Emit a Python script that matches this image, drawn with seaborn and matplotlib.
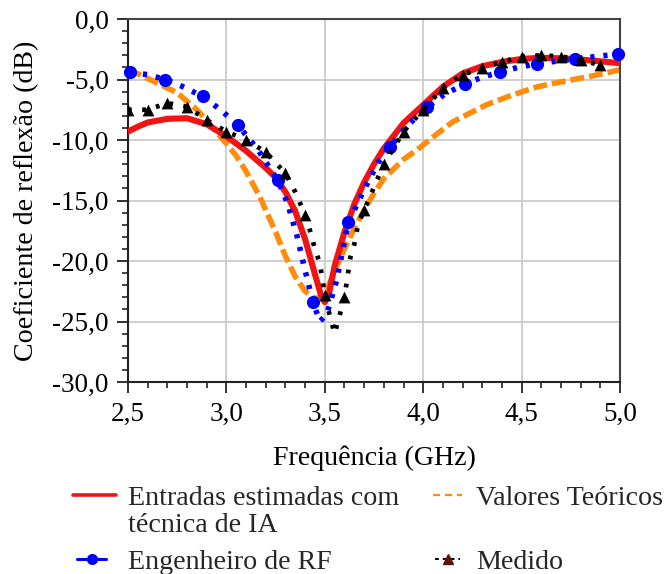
import matplotlib
matplotlib.use("Agg")
import matplotlib.pyplot as plt
from matplotlib.lines import Line2D
from matplotlib.ticker import MultipleLocator
import numpy as np
import pandas as pd
import seaborn as sns

# ---------------- data ----------------
# Entradas estimadas com técnica de IA (red solid)
freq_ia = [2.50, 2.55, 2.60, 2.70, 2.80, 2.90, 3.00, 3.10, 3.15, 3.20, 3.25, 3.30, 3.35,
           3.40, 3.45, 3.48, 3.50, 3.52, 3.55, 3.60, 3.65, 3.70, 3.75, 3.80, 3.90,
           4.00, 4.10, 4.20, 4.30, 4.40, 4.50, 4.60, 4.70, 4.80, 4.90, 5.00]
s11_ia = [-9.3, -8.9, -8.55, -8.25, -8.2, -8.7, -9.7, -10.9, -11.6, -12.3, -13.1, -14.3, -15.9,
          -18.2, -21.1, -22.8, -23.4, -22.8, -20.4, -17.6, -15.3, -13.5, -12.0, -10.7, -8.6,
          -7.1, -5.6, -4.5, -3.9, -3.55, -3.3, -3.2, -3.25, -3.35, -3.5, -3.65]

# Valores Teóricos (orange dashed)
freq_teo = [2.50, 2.56, 2.65, 2.75, 2.85, 2.90, 3.00, 3.05, 3.10, 3.17, 3.20, 3.25,
            3.30, 3.35, 3.40, 3.45, 3.48, 3.52, 3.55, 3.60, 3.65, 3.70, 3.75, 3.80,
            3.85, 3.90, 3.97, 4.07, 4.15, 4.32, 4.45, 4.58, 4.70, 4.86, 5.00]
s11_teo = [-4.2, -4.6, -5.3, -6.1, -7.5, -8.4, -10.3, -11.3, -12.6, -14.7, -15.8, -17.6,
           -19.6, -21.3, -22.5, -23.1, -23.0, -22.0, -20.8, -19.0, -17.3, -15.8, -14.4, -13.2,
           -12.4, -11.6, -10.8, -9.5, -8.5, -7.1, -6.3, -5.6, -5.2, -4.7, -4.2]

# Engenheiro de RF (blue dashed, circle markers)
eng_mk_freq = [2.51, 2.69, 2.88, 3.06, 3.26, 3.44, 3.62, 3.83, 4.02, 4.21, 4.39, 4.58, 4.77, 4.99]
eng_mk_s11 = [-4.4, -5.0, -6.4, -8.8, -13.3, -23.4, -16.8, -10.6, -7.3, -5.4, -4.4, -3.7, -3.3, -2.9]
eng_mid_freq = [2.60, 2.78, 2.97, 3.16, 3.31, 3.36, 3.40, 3.475, 3.51, 3.56, 3.70, 3.77,
                3.92, 4.11, 4.30, 4.48, 4.67, 4.88]
eng_mid_s11 = [-4.6, -5.6, -7.5, -10.8, -15.2, -18.0, -20.8, -25.0, -24.4, -21.6, -14.1, -11.9,
               -8.8, -6.2, -4.8, -4.0, -3.5, -3.1]

# Medido (black dotted, triangle markers)
med_mk_freq = [2.5, 2.6, 2.7, 2.8, 2.9, 3.0, 3.1, 3.2, 3.3, 3.4, 3.5, 3.6, 3.7,
               3.8, 3.9, 4.0, 4.1, 4.2, 4.3, 4.4, 4.5, 4.6, 4.7, 4.8, 4.9]
med_mk_s11 = [-7.5, -7.5, -6.95, -7.25, -8.35, -9.3, -10.0, -11.0, -12.75, -16.2, -22.8, -23.0, -15.8,
              -12.0, -9.3, -7.5, -5.7, -4.6, -4.05, -3.55, -3.1, -3.0, -3.1, -3.4, -3.8]
med_mid_freq = [3.35, 3.42, 3.45, 3.475, 3.525, 3.55, 3.575, 3.63, 3.65, 3.67]
med_mid_s11 = [-14.3, -17.2, -19.0, -20.2, -24.5, -26.0, -24.5, -19.7, -18.6, -16.9]

x_ticks = [2.5, 3.0, 3.5, 4.0, 4.5, 5.0]
x_tick_labels = ["2,5", "3,0", "3,5", "4,0", "4,5", "5,0"]
y_ticks = [0, -5, -10, -15, -20, -25, -30]
y_tick_labels = ["0,0", "-5,0", "-10,0", "-15,0", "-20,0", "-25,0", "-30,0"]

labels = ["Entradas estimadas com", "técnica de IA", "Valores Teóricos",
          "Engenheiro de RF", "Medido"]

# ---------------- style ----------------
sns.set_theme(style="white")
plt.rcParams["font.family"] = ["Liberation Serif", "DejaVu Serif"]
FS_TICK = 19.5
FS = 20.2

RED = "#f01414"
ORANGE = "#ff8c0a"
BLUE = "#0000ff"
BLACK = "#000000"
MAROON = "#5a1414"

W, H = 664, 574
fig = plt.figure(figsize=(W / 100, H / 100), dpi=100)
ax = fig.add_axes([128 / W, 1 - 382 / H, (620 - 128) / W, (382 - 19) / H])

def merged(f1, s1, f2, s2):
    df = pd.DataFrame({"f": list(f1) + list(f2), "s": list(s1) + list(s2)})
    return df.sort_values("f").reset_index(drop=True)

eng_line = merged(eng_mk_freq, eng_mk_s11, eng_mid_freq, eng_mid_s11)
med_line = merged(med_mk_freq, med_mk_s11, med_mid_freq, med_mid_s11)

sns.lineplot(x=freq_teo, y=s11_teo, ax=ax, color=ORANGE, lw=4.0,
             linestyle=(0, (2.5, 0.9)), legend=False, zorder=2, estimator=None)
sns.lineplot(x=freq_ia, y=s11_ia, ax=ax, color=RED, lw=4.4, legend=False,
             zorder=3, estimator=None)
sns.lineplot(data=eng_line, x="f", y="s", ax=ax, color=BLUE, lw=4.0,
             linestyle=(0, (0.75, 1.6)), legend=False, zorder=4, estimator=None)
sns.scatterplot(x=eng_mk_freq, y=eng_mk_s11, ax=ax, color=BLUE, s=9.5 ** 2,
                marker="o", linewidth=0, legend=False, zorder=5, clip_on=False)
sns.lineplot(data=med_line, x="f", y="s", ax=ax, color=BLACK, lw=3.4,
             linestyle=(0, (0.8, 2.2)), legend=False, zorder=6, estimator=None)
sns.scatterplot(x=med_mk_freq, y=med_mk_s11, ax=ax, color=BLACK, s=8.5 ** 2,
                marker="^", linewidth=0, legend=False, zorder=7)

ax.set_xlim(2.5, 5.0)
ax.set_ylim(-30, 0)
ax.set_xticks(x_ticks, labels=x_tick_labels)
ax.set_yticks(y_ticks, labels=y_tick_labels)
ax.xaxis.set_minor_locator(MultipleLocator(0.1))
ax.yaxis.set_minor_locator(MultipleLocator(1))
ax.tick_params(which="major", direction="out", length=8, width=1.3, color="#222222",
               labelsize=FS_TICK, pad=6, bottom=True, left=True, top=False, right=False)
ax.tick_params(which="minor", direction="out", length=4.5, width=1.2, color="#222222",
               bottom=True, left=True, top=False, right=False)
for lab in ax.get_xticklabels() + ax.get_yticklabels():
    lab.set_color("black")

ax.grid(True, which="major", color="#cccccc", lw=1.3)
ax.set_axisbelow(True)
for side in ["left", "bottom"]:
    ax.spines[side].set_color("#222222")
    ax.spines[side].set_linewidth(1.5)
for side in ["top", "right"]:
    ax.spines[side].set_color("#444444")
    ax.spines[side].set_linewidth(1.5)

ax.set_xlabel("Frequência (GHz)", fontsize=FS, color="black", labelpad=14)
ax.set_ylabel("Coeficiente de reflexão (dB)", fontsize=FS, color="black", labelpad=9)

# ---------------- legend ----------------
fs_px = FS * 100 / 72
h_ia = Line2D([], [], color=RED, lw=2.6)
h_teo = Line2D([], [], color=ORANGE, lw=1.6, linestyle=(0, (3.2, 2.2)))
h_eng = Line2D([], [], color=BLUE, lw=2.2, marker="o", markersize=7)
h_med = Line2D([], [], color=BLACK, lw=1.4, linestyle=(0, (2.0, 2.0)), marker="^",
               markersize=7, markerfacecolor=MAROON, markeredgecolor=MAROON)

def add_leg(handle, label, x0, x1, xt, y):
    fig.legend([handle], [label], loc="center left",
               bbox_to_anchor=(x0 / W, 1 - y / H), frameon=False, borderpad=0,
               borderaxespad=0, handlelength=(x1 - x0) / fs_px,
               handletextpad=(xt - x1) / fs_px, fontsize=FS)

add_leg(h_ia, labels[0], 73, 116, 128, 498)
add_leg(h_teo, labels[2], 433, 462, 476, 498)
add_leg(h_eng, labels[3], 77, 106, 128, 562)
add_leg(h_med, labels[4], 435, 460, 476, 562)
fig.text(128 / W, 1 - 525 / H, labels[1], fontsize=FS, va="center", ha="left")

fig.savefig("out.png", dpi=100)
